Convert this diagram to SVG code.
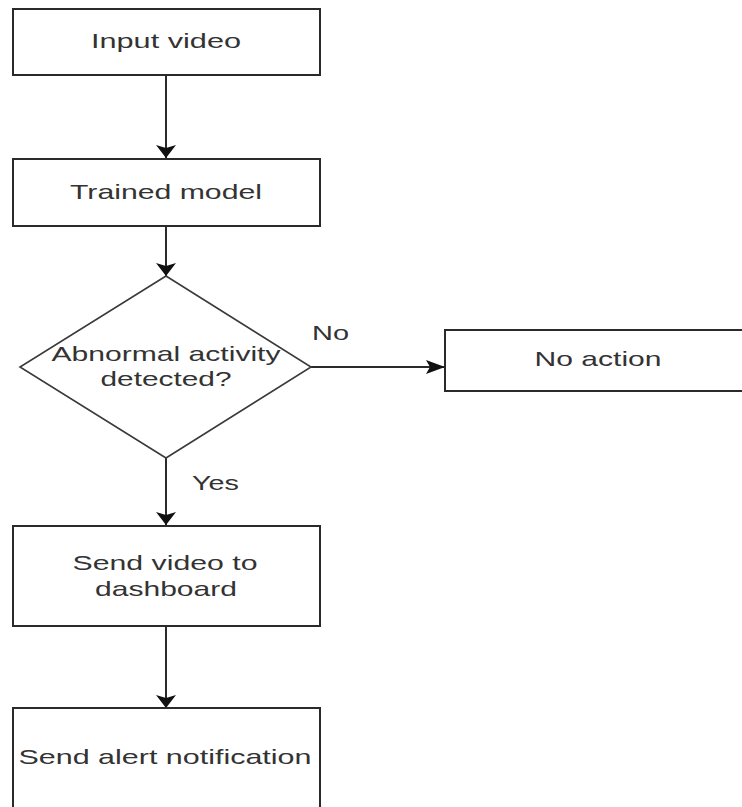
<svg xmlns="http://www.w3.org/2000/svg" width="742" height="807" viewBox="0 0 742 807">
<style>
.box{fill:#fff;stroke:#2a2a2a;stroke-width:2}
.dia{fill:#fff;stroke:#3a3a3a;stroke-width:1.6}
.edge{fill:none;stroke:#2a2a2a;stroke-width:2}
.t{font-family:"Liberation Sans",Arial,sans-serif;font-size:21px;fill:#333;text-anchor:middle}
.lbl{font-family:"Liberation Sans",Arial,sans-serif;font-size:21px;fill:#333}
</style>
<defs>
<marker id="ad" markerUnits="userSpaceOnUse" markerWidth="24" markerHeight="24" viewBox="0 -12 14 24" refX="13" refY="0" orient="auto">
<path d="M0,-10 L13,0 L0,10 L3,0 z" fill="#111"/>
</marker>
<marker id="ah" markerUnits="userSpaceOnUse" markerWidth="24" markerHeight="18" viewBox="0 -9 20 18" refX="19" refY="0" orient="auto">
<path d="M0,-7 L19,0 L0,7 L4,0 z" fill="#111"/>
</marker>
</defs>
<rect width="742" height="807" fill="#fff"/>
<g id="connectors">
<line class="edge" x1="166" y1="75" x2="166" y2="158" marker-end="url(#ad)"/>
<line class="edge" x1="166" y1="226" x2="166" y2="276" marker-end="url(#ad)"/>
<line class="edge" x1="311" y1="367" x2="445" y2="367" marker-end="url(#ah)"/>
<line class="edge" x1="166" y1="458" x2="166" y2="525" marker-end="url(#ad)"/>
<line class="edge" x1="166" y1="626" x2="166" y2="708" marker-end="url(#ad)"/>
<text class="lbl" x="312" y="340" textLength="37" lengthAdjust="spacingAndGlyphs">No</text>
<text class="lbl" x="192" y="490" textLength="47" lengthAdjust="spacingAndGlyphs">Yes</text>
</g>
<g id="input-video">
<rect class="box" x="13" y="9" width="307" height="66"/>
<text class="t" x="166" y="48" textLength="150" lengthAdjust="spacingAndGlyphs">Input video</text>
</g>
<g id="trained-model">
<rect class="box" x="13" y="159" width="307" height="67"/>
<text class="t" x="166" y="199" textLength="192" lengthAdjust="spacingAndGlyphs">Trained model</text>
</g>
<g id="decision">
<polygon class="dia" points="166,276 311,367 166,458 20,367"/>
<text class="t" x="166" y="361" textLength="229" lengthAdjust="spacingAndGlyphs">Abnormal activity</text>
<text class="t" x="166" y="386" textLength="131" lengthAdjust="spacingAndGlyphs">detected?</text>
</g>
<g id="no-action">
<rect class="box" x="445" y="330" width="310" height="61"/>
<text class="t" x="598" y="366" textLength="127" lengthAdjust="spacingAndGlyphs">No action</text>
</g>
<g id="send-video">
<rect class="box" x="13" y="526" width="307" height="100"/>
<text class="t" x="165" y="570" textLength="185" lengthAdjust="spacingAndGlyphs">Send video to</text>
<text class="t" x="166" y="596" textLength="142" lengthAdjust="spacingAndGlyphs">dashboard</text>
</g>
<g id="send-alert">
<rect class="box" x="13" y="708" width="307" height="120"/>
<text class="t" x="165" y="764" textLength="293" lengthAdjust="spacingAndGlyphs">Send alert notification</text>
</g>
</svg>
